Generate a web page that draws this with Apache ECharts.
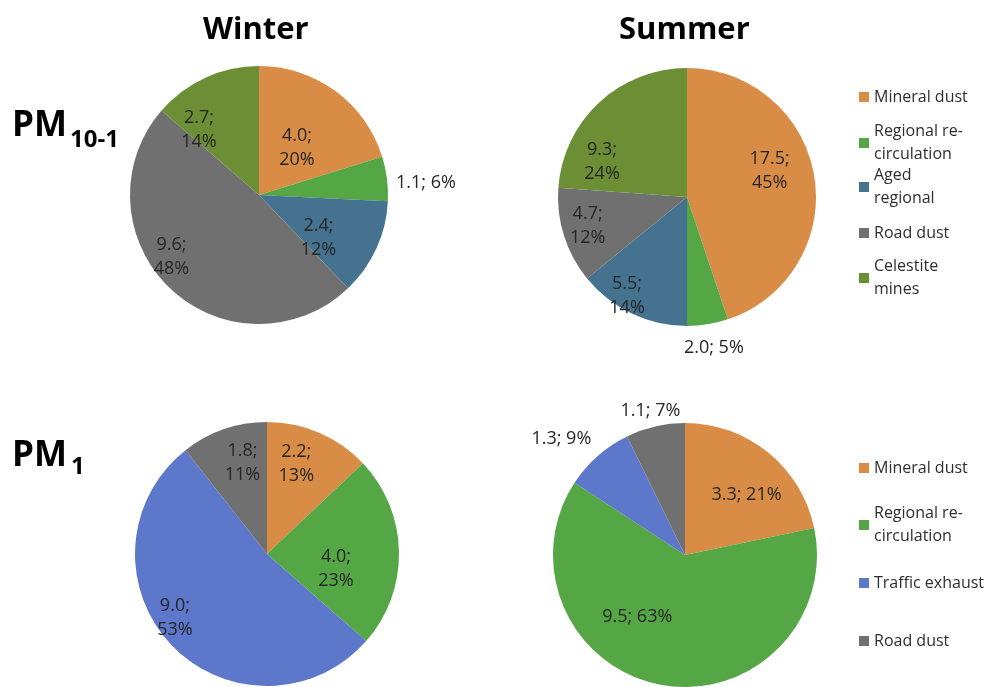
<!DOCTYPE html>
<html>
<head>
<meta charset="utf-8">
<script src="https://cdn.jsdelivr.net/npm/echarts@6/dist/echarts.min.js"></script>
<style>
  html, body { margin: 0; padding: 0; background: #ffffff; }
  #chart { width: 985px; height: 687px; }
</style>
</head>
<body>
<div id="chart"></div>
<script>
// Source contributions (value in µg/m³ and share in %)
const pm10Sources = ['Mineral dust', 'Regional re-circulation', 'Aged regional', 'Road dust', 'Celestite mines'];
const pm10Winter = [4.0, 1.1, 2.4, 9.6, 2.7];
const pm10WinterPct = [20, 6, 12, 48, 14];
const pm10Summer = [17.5, 2.0, 5.5, 4.7, 9.3];
const pm10SummerPct = [45, 5, 14, 12, 24];

const pm1Sources = ['Mineral dust', 'Regional re-circulation', 'Traffic exhaust', 'Road dust'];
const pm1Winter = [2.2, 4.0, 9.0, 1.8];
const pm1WinterPct = [13, 23, 53, 11];
const pm1Summer = [3.3, 9.5, 1.3, 1.1];
const pm1SummerPct = [21, 63, 9, 7];

const seasons = ['Winter', 'Summer'];

// Style
const FONT = '"Open Sans", "Liberation Sans", sans-serif';
const sourceColors = {
  'Mineral dust': '#D98C45',
  'Regional re-circulation': '#55A645',
  'Aged regional': '#44728F',
  'Road dust': '#707070',
  'Celestite mines': '#6C8E35',
  'Traffic exhaust': '#5D78CA'
};
const legendText = {
  'Mineral dust': 'Mineral dust',
  'Regional re-circulation': 'Regional re-\ncirculation',
  'Aged regional': 'Aged\nregional',
  'Road dust': 'Road dust',
  'Celestite mines': 'Celestite\nmines',
  'Traffic exhaust': 'Traffic exhaust'
};

// Label placement tweaks per slice: [dx, dy, single line]
const labelTweaks = {
  w10: [[-2, 7, 0], [100, -4, 1], [-2, 15, 0], [-41, 13, 0], [-32, -4, 0]],
  s10: [[16, -15, 0], [16, 84, 1], [-31, 38, 0], [-35, 9, 0], [-39, 14, 0]],
  w1: [[2, -27, 0], [0, 16, 0], [-42, 16, 0], [-2, -26, 0]],
  s1: [[18, -7, 1], [-35, -6, 1], [-78, -64, 1], [-19, -77, 1]]
};

function pieSeries(key, names, values, pcts, center, radius) {
  const tw = labelTweaks[key];
  return {
    type: 'pie',
    center: center,
    radius: [0, radius],
    startAngle: 90,
    clockwise: true,
    avoidLabelOverlap: false,
    silent: true,
    itemStyle: { borderWidth: 0 },
    labelLine: { show: false },
    label: {
      show: true,
      position: 'inside',
      fontFamily: FONT,
      fontSize: 18,
      lineHeight: 24,
      color: '#262626',
      formatter: function (p) {
        const sep = tw[p.dataIndex][2] ? ' ' : '\n';
        return values[p.dataIndex].toFixed(1) + ';' + sep + pcts[p.dataIndex] + '%';
      }
    },
    labelLayout: function (p) {
      const t = tw[p.dataIndex];
      return { dx: t[0], dy: t[1] };
    },
    data: names.map(function (n, i) {
      return { name: n, value: values[i], itemStyle: { color: sourceColors[n] } };
    })
  };
}

// One legend block per entry so that wrapped names keep the marker on their first line
function legendBlocks(names, iconY) {
  return names.map(function (n, i) {
    const twoLines = legendText[n].indexOf('\n') >= 0;
    return {
      orient: 'vertical',
      left: 859,
      top: iconY[i] - (twoLines ? 34.5 : 11.5),
      padding: 0,
      itemWidth: 10,
      itemHeight: 10,
      icon: 'rect',
      selectedMode: false,
      data: [n],
      formatter: function (name) { return legendText[name]; },
      textStyle: {
        fontFamily: FONT,
        fontSize: 16,
        lineHeight: 23,
        color: '#2e2e2e',
        padding: twoLines ? [23, 0, 0, 0] : 0
      }
    };
  });
}

const titleStyle = { fontFamily: FONT, fontWeight: 'bold', color: '#000000' };

const option = {
  backgroundColor: '#ffffff',
  animation: false,
  title: [
    { text: seasons[0], left: 203, top: 15, padding: 0, textStyle: Object.assign({ fontSize: 31 }, titleStyle) },
    { text: seasons[1], left: 619, top: 15, padding: 0, textStyle: Object.assign({ fontSize: 31 }, titleStyle) },
    { text: 'PM', left: 12, top: 109, padding: 0, textStyle: Object.assign({ fontSize: 35 }, titleStyle) },
    { text: '10-1', left: 70, top: 128, padding: 0, textStyle: Object.assign({ fontSize: 24 }, titleStyle) },
    { text: 'PM', left: 12, top: 439, padding: 0, textStyle: Object.assign({ fontSize: 35 }, titleStyle) },
    { text: '1', left: 71, top: 455, padding: 0, textStyle: Object.assign({ fontSize: 24 }, titleStyle) }
  ],
  legend: legendBlocks(pm10Sources, [97, 143, 187, 233, 278])
    .concat(legendBlocks(pm1Sources, [468, 525, 583, 641])),
  series: [
    pieSeries('w10', pm10Sources, pm10Winter, pm10WinterPct, [259, 195], 129),
    pieSeries('s10', pm10Sources, pm10Summer, pm10SummerPct, [687, 197], 129),
    pieSeries('w1', pm1Sources, pm1Winter, pm1WinterPct, [267, 554], 132),
    pieSeries('s1', pm1Sources, pm1Summer, pm1SummerPct, [685, 555], 132)
  ]
};

const chart = echarts.init(document.getElementById('chart'), null, { renderer: 'canvas' });
chart.setOption(option);
</script>
</body>
</html>
